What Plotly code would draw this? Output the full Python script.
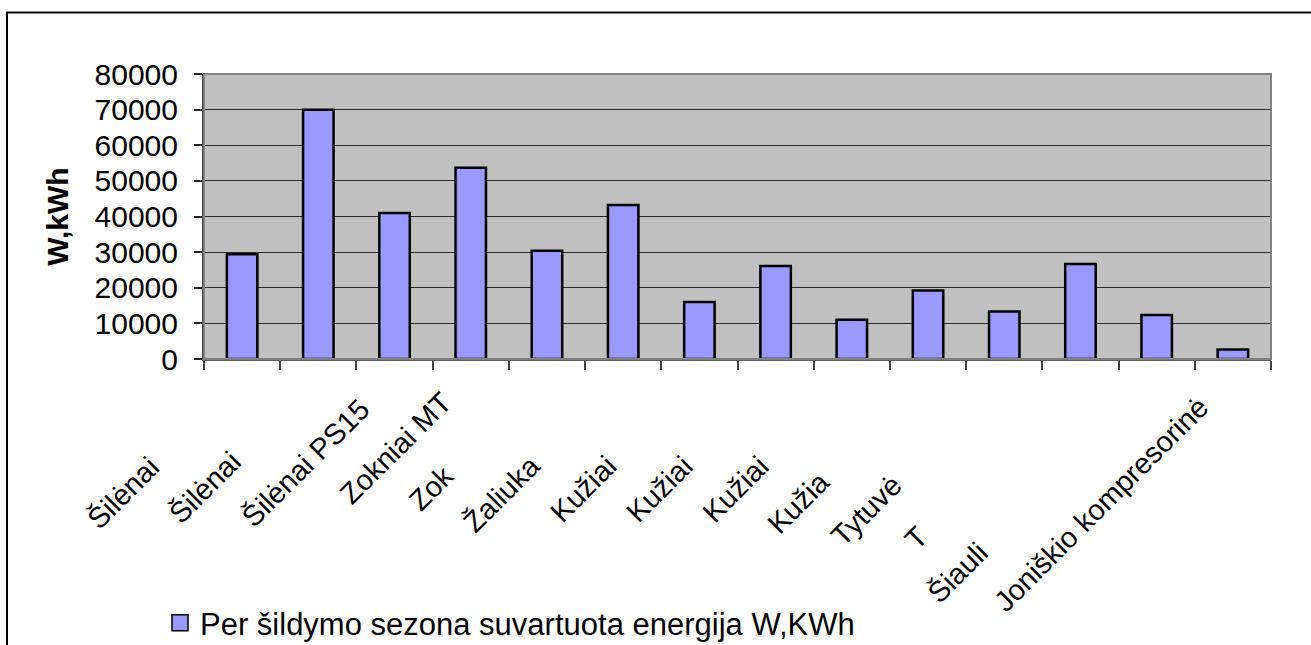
import plotly.graph_objects as go

# Heating stations (category labels as shown under the axis)
stations = [
    "Šilėnai", "Šilėnai", "Šilėnai PS15", "Zokniai MT", "Zok", "Žaliuka",
    "Kužiai", "Kužiai", "Kužiai", "Kužia", "Tytuvė", "T", "Šiauli",
    "Joniškio kompresorinė",
]
# Energy used during the heating season, kWh
energy_kwh = [29400, 70000, 41000, 53700, 30400, 43200, 16000,
              26100, 11000, 19200, 13300, 26700, 12350, 2700]

series_name = "Per šildymo sezona suvartuota energija W,KWh"
y_ticks = [0, 10000, 20000, 30000, 40000, 50000, 60000, 70000, 80000]

FONT = "Liberation Sans, Arial, sans-serif"
W, H = 1311, 645
L, R, T, B = 204, 40, 74, 286          # plot-area margins in px
PW, PH = W - L - R, H - T - B

# how far each rotated label is pushed down its diagonal (px)
label_drop = [61, 56, 3, -3, 71, 61, 61, 61, 61, 77, 81, 131, 147, 2]

idx = list(range(len(stations)))
BAR_FILL = "#9999FF"

fig = go.Figure()
fig.add_trace(go.Bar(
    x=idx, y=energy_kwh, name=series_name, width=0.4,
    marker=dict(color=BAR_FILL, line=dict(color="#000000", width=2.5)),
    showlegend=False,
))
# legend entry with a larger square key
fig.add_trace(go.Scatter(
    x=[None], y=[None], mode="markers", name=series_name,
    marker=dict(symbol="square", size=16, color=BAR_FILL,
                line=dict(color="#000000", width=1.5)),
    showlegend=True, hoverinfo="skip",
))

def px_x(p):
    return (p - L) / PW

def px_y(p):
    return (H - B - p) / PH

annotations = []
for i, (lab, d) in enumerate(zip(stations, label_drop)):
    annotations.append(dict(
        x=i, xref="x", y=0, yref="paper",
        text=lab, showarrow=False, textangle=-45,
        xanchor="right", yanchor="top",
        xshift=-13 - d, yshift=-(27 + d),
        font=dict(family=FONT, size=29, color="#000000"),
    ))

shapes = [
    # chart frame (top and left edges)
    dict(type="line", xref="paper", yref="paper",
         x0=px_x(6), x1=px_x(1312), y0=px_y(12.5), y1=px_y(12.5),
         line=dict(color="#000000", width=2)),
    dict(type="line", xref="paper", yref="paper",
         x0=px_x(7), x1=px_x(7), y0=px_y(12.5), y1=px_y(646),
         line=dict(color="#000000", width=2)),
    # plot-area border
    dict(type="rect", xref="paper", yref="paper", x0=0, x1=1, y0=0, y1=1,
         line=dict(color="#808080", width=2), layer="above"),
]

fig.update_layout(
    width=W, height=H,
    margin=dict(l=L, r=R, t=T, b=B, autoexpand=False),
    paper_bgcolor="#FFFFFF", plot_bgcolor="#C0C0C0",
    font=dict(family=FONT, size=29, color="#000000"),
    bargap=0.6,
    showlegend=True,
    legend=dict(
        orientation="h", x=px_x(160), y=px_y(596), xanchor="left", yanchor="top",
        font=dict(family=FONT, size=31, color="#000000"),
        itemsizing="trace",
        bgcolor="rgba(0,0,0,0)", borderwidth=0,
    ),
    xaxis=dict(
        range=[-0.5, len(stations) - 0.5],
        tickmode="array", tickvals=[i - 0.5 for i in range(len(stations) + 1)],
        showticklabels=False, ticks="outside", ticklen=9, tickwidth=1.5,
        tickcolor="#404040", showgrid=False, zeroline=False,
        showline=True, linecolor="#606060", linewidth=2,
        fixedrange=True,
    ),
    yaxis=dict(
        range=[0, 80000], tickmode="array", tickvals=y_ticks,
        ticktext=[str(v) for v in y_ticks],
        ticks="outside", ticklen=8, tickwidth=1.5, tickcolor="#202020",
        ticklabelstandoff=10,
        tickfont=dict(family=FONT, size=30, color="#000000"),
        showgrid=True, gridcolor="#2A2A2A", gridwidth=1.2,
        zeroline=False, showline=True, linecolor="#404040", linewidth=2,
        title=dict(text="<b>W,kWh</b>", standoff=17,
                   font=dict(family=FONT, size=30, color="#000000")),
        automargin=False, fixedrange=True,
    ),
    annotations=annotations,
    shapes=shapes,
)

fig.write_html("out.html")
